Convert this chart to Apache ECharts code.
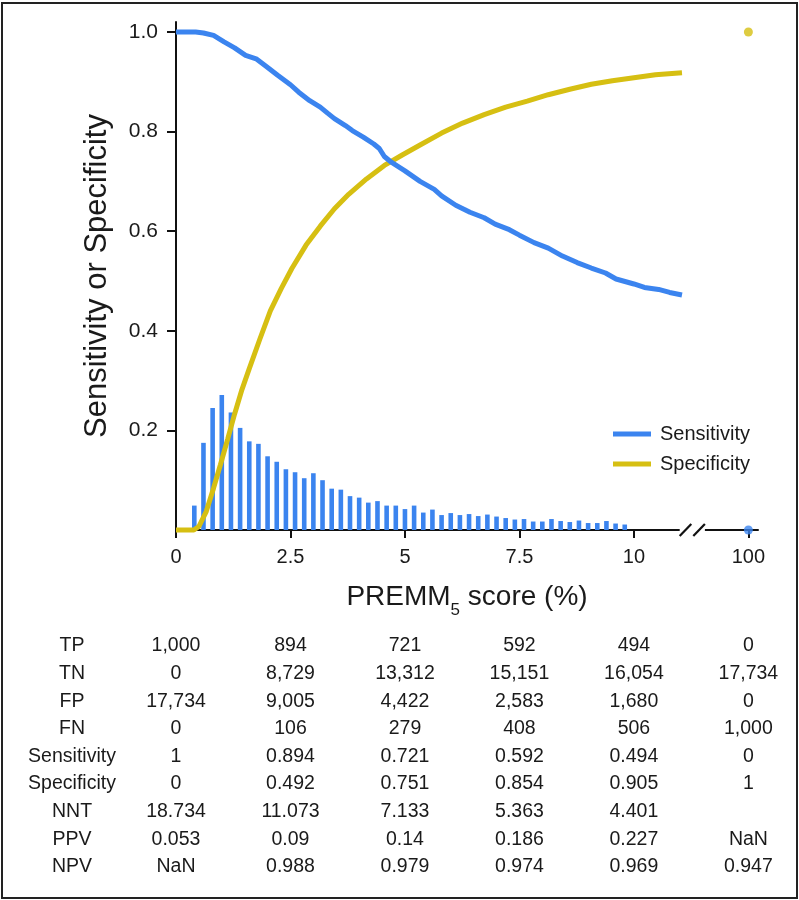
<!DOCTYPE html>
<html><head><meta charset="utf-8">
<script src="https://cdn.jsdelivr.net/npm/echarts@6/dist/echarts.min.js"></script>
<style>html,body{margin:0;padding:0;background:#fff}#c{width:799px;height:900px}</style>
</head><body><div id="c"></div>
<script>
// ---------- data ----------
const binCenters = [0.4,0.6,0.8,1.0,1.2,1.4,1.6,1.8,2.0,2.2,2.4,2.6,2.8,3.0,3.2,3.4,3.6,3.8,4.0,4.2,4.4,4.6,4.8,5.0,5.2,5.4,5.6,5.8,6.0,6.2,6.4,6.6,6.8,7.0,7.2,7.4,7.6,7.8,8.0,8.2,8.4,8.6,8.8,9.0,9.2,9.4,9.6,9.8];
const binHeights = [0.049,0.175,0.245,0.271,0.236,0.205,0.178,0.173,0.148,0.137,0.122,0.116,0.104,0.114,0.100,0.083,0.081,0.068,0.065,0.055,0.058,0.049,0.049,0.042,0.049,0.035,0.041,0.030,0.034,0.030,0.032,0.028,0.031,0.027,0.024,0.021,0.022,0.017,0.017,0.022,0.018,0.016,0.019,0.014,0.014,0.018,0.013,0.011];

const sensX = [0,0.43,0.6,0.82,1.05,1.28,1.52,1.75,1.98,2.22,2.5,2.68,2.92,3.15,3.31,3.46,3.7,3.85,4.09,4.32,4.44,4.55,4.71,5.0,5.33,5.64,5.8,6.11,6.42,6.73,6.97,7.28,7.5,7.82,8.13,8.44,8.76,9.07,9.38,9.61,10.0,10.23,10.54,10.78,11.05];
const sensY = [1.0,1.0,0.998,0.993,0.98,0.968,0.953,0.946,0.93,0.913,0.894,0.879,0.862,0.849,0.837,0.826,0.812,0.802,0.789,0.775,0.766,0.75,0.738,0.721,0.700,0.684,0.671,0.652,0.638,0.627,0.614,0.603,0.592,0.577,0.566,0.550,0.537,0.526,0.516,0.504,0.494,0.487,0.483,0.477,0.472];

const specX = [0,0.39,0.5,0.66,0.82,0.97,1.13,1.28,1.44,1.6,1.83,2.06,2.3,2.53,2.84,3.15,3.46,3.77,4.16,4.55,4.94,5.33,5.8,6.26,6.73,7.2,7.67,8.13,8.6,9.07,9.53,10.0,10.47,11.05];
const specY = [0,0,0.007,0.037,0.084,0.131,0.183,0.233,0.282,0.324,0.383,0.44,0.485,0.525,0.572,0.610,0.645,0.674,0.705,0.732,0.753,0.773,0.797,0.817,0.834,0.849,0.861,0.874,0.885,0.895,0.902,0.908,0.914,0.918];

const breakScore = 100;        // the far-right score shown after the axis break
const sensAtBreak = 0;
const specAtBreak = 1;

const xTickValues = [0, 2.5, 5, 7.5, 10, 100];
const xTickLabels = ['0', '2.5', '5', '7.5', '10', '100'];
const yTickValues = [0.2, 0.4, 0.6, 0.8, 1.0];
const yTickLabels = ['0.2', '0.4', '0.6', '0.8', '1.0'];

const tableRowLabels = ['TP','TN','FP','FN','Sensitivity','Specificity','NNT','PPV','NPV'];
const colTP   = ['1,000','894','721','592','494','0'];
const colTN   = ['0','8,729','13,312','15,151','16,054','17,734'];
const colFP   = ['17,734','9,005','4,422','2,583','1,680','0'];
const colFN   = ['0','106','279','408','506','1,000'];
const colSens = ['1','0.894','0.721','0.592','0.494','0'];
const colSpec = ['0','0.492','0.751','0.854','0.905','1'];
const colNNT  = ['18.734','11.073','7.133','5.363','4.401',''];
const colPPV  = ['0.053','0.09','0.14','0.186','0.227','NaN'];
const colNPV  = ['NaN','0.988','0.979','0.974','0.969','0.947'];

// ---------- axis mapping (broken axis) ----------
const breakAxisPos = 12.5;   // where 100 sits on the compressed axis
const axisMax = 12.71;
const breakStart = 11.0, breakEnd = 11.55;
function toAxis(v) { return v === breakScore ? breakAxisPos : v; }

const BLUE = '#3b84ef';
const YELLOW = '#d6bf12';
const FONT = 'Liberation Sans, Arial, Helvetica, sans-serif';
const TXT = '#1a1a1a';

const chart = echarts.init(document.getElementById('c'), null, {renderer: 'canvas'});

const axisTickPositions = xTickValues.map(toAxis);

chart.setOption({
  animation: false,
  backgroundColor: '#fff',
  textStyle: {fontFamily: FONT, color: TXT},
  grid: {left: 176, top: 22, width: 582, height: 508, containLabel: false},
  legend: {
    data: ['Sensitivity', 'Specificity'],
    orient: 'vertical',
    left: 613, top: 423, padding: 0,
    icon: 'rect', itemWidth: 38, itemHeight: 5, itemGap: 8,
    textStyle: {fontSize: 20, color: TXT, fontFamily: FONT, lineHeight: 22, padding: [0, 0, 0, 4]}
  },
  xAxis: {
    type: 'value', min: 0, max: axisMax,
    name: '{n|PREMM}{s|5}{n| score (%)}',
    nameLocation: 'middle', nameGap: 45,
    nameTextStyle: {
      color: TXT, fontFamily: FONT,
      rich: {
        n: {fontSize: 28, lineHeight: 44, verticalAlign: 'middle', color: TXT, fontFamily: FONT},
        s: {fontSize: 17, lineHeight: 15, verticalAlign: 'bottom', color: TXT, fontFamily: FONT}
      }
    },
    axisLine: {show: true, lineStyle: {color: '#111', width: 2}},
    axisTick: {show: true, inside: false, length: 8, lineStyle: {color: '#111', width: 2}, customValues: axisTickPositions},
    axisLabel: {
      fontSize: 20, color: TXT, fontFamily: FONT, margin: 17,
      customValues: axisTickPositions,
      formatter: function (v) {
        const i = axisTickPositions.findIndex(p => Math.abs(p - v) < 1e-6);
        return i >= 0 ? xTickLabels[i] : '';
      }
    },
    splitLine: {show: false}
  },
  yAxis: {
    type: 'value', min: 0, max: 1.02,
    name: 'Sensitivity or Specificity',
    nameLocation: 'middle', nameGap: 63,
    nameTextStyle: {fontSize: 31, color: TXT, fontFamily: FONT},
    axisLine: {show: true, lineStyle: {color: '#111', width: 2}},
    axisTick: {show: true, length: 9, lineStyle: {color: '#111', width: 2}, customValues: yTickValues},
    axisLabel: {
      fontSize: 21, color: TXT, fontFamily: FONT, margin: 18,
      customValues: yTickValues,
      formatter: function (v) {
        const i = yTickValues.findIndex(p => Math.abs(p - v) < 1e-6);
        return i >= 0 ? yTickLabels[i] : '';
      }
    },
    splitLine: {show: false}
  },
  series: [
    {
      name: 'Distribution', type: 'bar', barWidth: 4.6,
      itemStyle: {color: BLUE},
      data: binCenters.map((c, i) => [c, binHeights[i]]),
      z: 1
    },
    {
      name: 'Specificity', type: 'line', showSymbol: false, symbol: 'none', clip: false,
      lineStyle: {color: YELLOW, width: 5}, itemStyle: {color: YELLOW},
      data: specX.map((x, i) => [x, specY[i]]), z: 3
    },
    {
      name: 'Sensitivity', type: 'line', showSymbol: false, symbol: 'none', clip: false,
      lineStyle: {color: BLUE, width: 5}, itemStyle: {color: BLUE},
      data: sensX.map((x, i) => [x, sensY[i]]), z: 4
    },
    {
      name: 'SpecBreak', type: 'scatter', symbolSize: 9, clip: false,
      itemStyle: {color: YELLOW},
      data: [[toAxis(breakScore), specAtBreak]], z: 5
    },
    {
      name: 'SensBreak', type: 'scatter', symbolSize: 9, clip: false,
      itemStyle: {color: BLUE},
      data: [[toAxis(breakScore), sensAtBreak]], z: 5
    }
  ]
});

// ---------- overlay graphics: axis break, table, frame ----------
const px = v => chart.convertToPixel({xAxisIndex: 0}, v);
const py = v => chart.convertToPixel({yAxisIndex: 0}, v);
const y0 = py(0);
const bx0 = px(breakStart), bx1 = px(breakEnd);
const bmid = px((breakStart + breakEnd) / 2);
const s = 6;

const graphics = [
  {type: 'rect', shape: {x: bx0, y: y0 - 3, width: bx1 - bx0, height: 6}, style: {fill: '#fff'}, z: 50},
  {type: 'line', shape: {x1: bx0, y1: y0 + s, x2: bmid - 1, y2: y0 - s}, style: {stroke: '#111', lineWidth: 2.2}, z: 51},
  {type: 'line', shape: {x1: bmid + 1, y1: y0 + s, x2: bx1, y2: y0 - s}, style: {stroke: '#111', lineWidth: 2.2}, z: 51},
  {type: 'rect', shape: {x: 2, y: 3, width: 795, height: 895}, style: {fill: 'none', stroke: '#222', lineWidth: 2}, z: 60}
];

const tableCols = [colTP, colTN, colFP, colFN, colSens, colSpec, colNNT, colPPV, colNPV];
const rowTop = 646, rowStep = 27.6, labelX = 72;
tableRowLabels.forEach((lab, r) => {
  const y = rowTop + r * rowStep;
  graphics.push({type: 'text', x: labelX, y: y, z: 55,
    style: {text: lab, fontSize: 19.5, fontFamily: FONT, fill: TXT, align: 'center', verticalAlign: 'middle'}});
  tableCols[r].forEach((val, c) => {
    if (!val) return;
    graphics.push({type: 'text', x: px(toAxis(xTickValues[c])), y: y, z: 55,
      style: {text: val, fontSize: 19.5, fontFamily: FONT, fill: TXT, align: 'center', verticalAlign: 'middle'}});
  });
});

chart.setOption({graphic: graphics});
</script>
</body></html>
